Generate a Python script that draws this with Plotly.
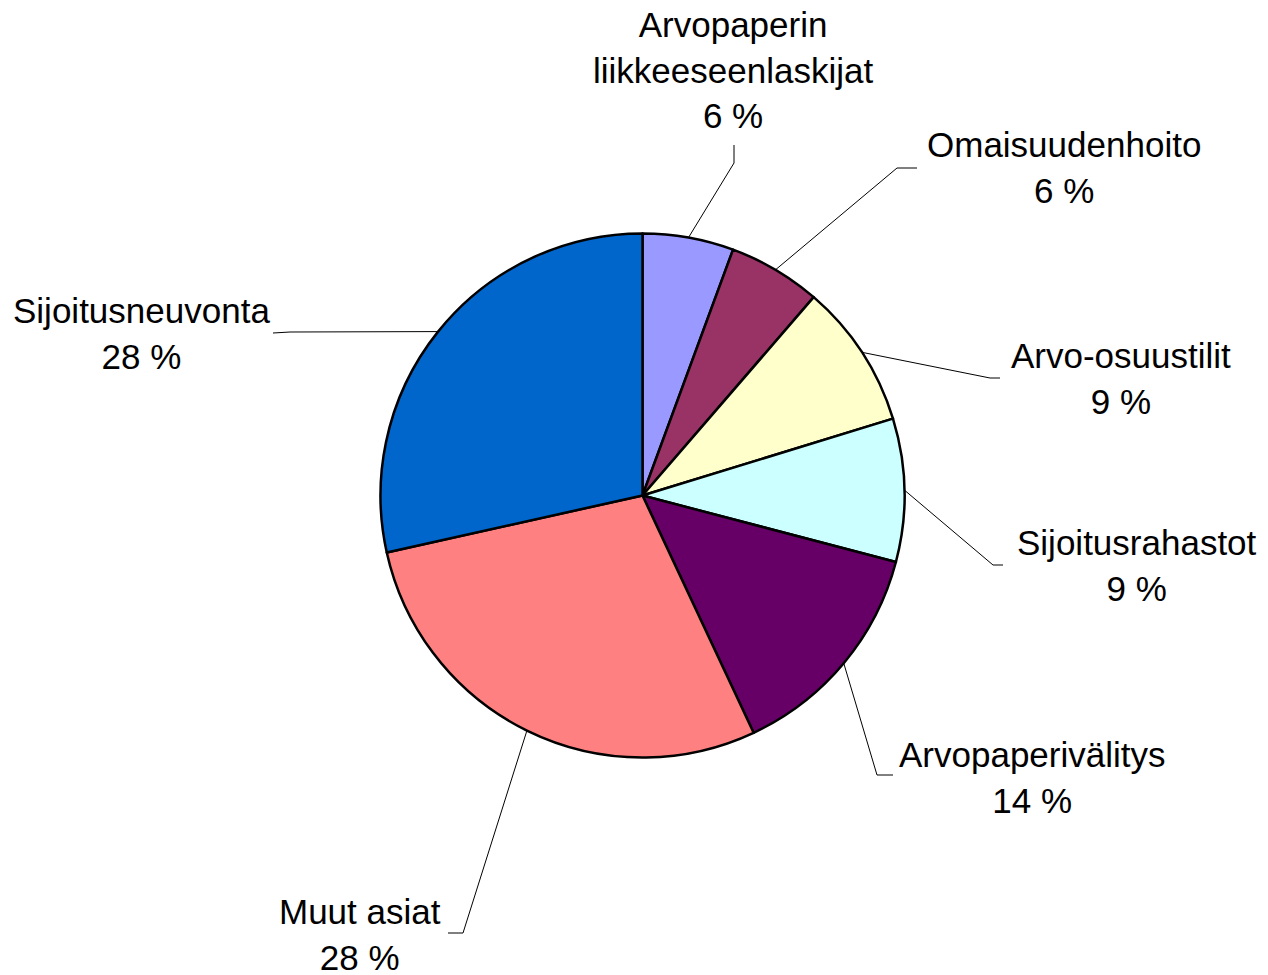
import math
import plotly.graph_objects as go

# ---- data ----
labels = ["Arvopaperin<br>liikkeeseenlaskijat", "Omaisuudenhoito", "Arvo-osuustilit",
          "Sijoitusrahastot", "Arvopaperivälitys", "Muut asiat", "Sijoitusneuvonta"]
values = [5.6, 5.7, 8.9, 8.8, 13.9, 28.4, 28.4]
colors = ["#9999FF", "#993366", "#FFFFCC", "#CCFFFF", "#660066", "#FF8080", "#0066CC"]

# ---- layout (pixels in a 1268x975 canvas) ----
W, H = 1268, 975
CX, CY, R = 642.5, 495.5, 262
label_pos = [(733, 70), (1064, 168), (1121, 378), (1137, 565), (1032, 777), (360, 934), (141, 333)]
elbows = [(734, 163), (897, 168), (990, 378), (993, 565), (877, 775), (463, 933), (290, 332)]
ends = [(734, 145), (917, 168), (1000, 378), (1003, 565), (893, 775), (448, 933), (273, 333)]

def px(x):
    return x / W

def py(y):
    return 1 - y / H

fig = go.Figure(go.Pie(
    labels=labels, values=values, sort=False, direction="clockwise", rotation=0,
    marker=dict(colors=colors, line=dict(color="black", width=2.5)),
    textinfo="none", hoverinfo="label+percent", showlegend=False,
    domain=dict(x=[px(CX - R), px(CX + R)], y=[py(CY + R), py(CY - R)]),
))

total = sum(values)
cum = 0.0
shapes = []
annotations = []
for i, (lab, v) in enumerate(zip(labels, values)):
    mid = (cum + v / 2) / total * 2 * math.pi
    cum += v
    sx = CX + R * math.sin(mid)
    sy = CY - R * math.cos(mid)
    ex, ey = elbows[i]
    tx, ty = ends[i]
    path = f"M {px(sx)} {py(sy)} L {px(ex)} {py(ey)} L {px(tx)} {py(ty)}"
    shapes.append(dict(type="path", path=path, xref="paper", yref="paper",
                       line=dict(color="black", width=1)))
    pct = round(v / total * 100)
    lx, ly = label_pos[i]
    annotations.append(dict(text=f"{lab}<br>{pct} %", x=px(lx), y=py(ly), xref="paper", yref="paper",
                            xanchor="center", yanchor="middle", showarrow=False, align="center",
                            font=dict(family="Liberation Sans, Arial, sans-serif", size=35, color="black")))

fig.update_layout(width=W, height=H, margin=dict(l=0, r=0, t=0, b=0),
                  paper_bgcolor="white", plot_bgcolor="white",
                  shapes=shapes, annotations=annotations)
fig.write_html("out.html", config={"displayModeBar": False},
               post_script="document.body.style.margin='0';document.body.style.overflow='hidden';")
